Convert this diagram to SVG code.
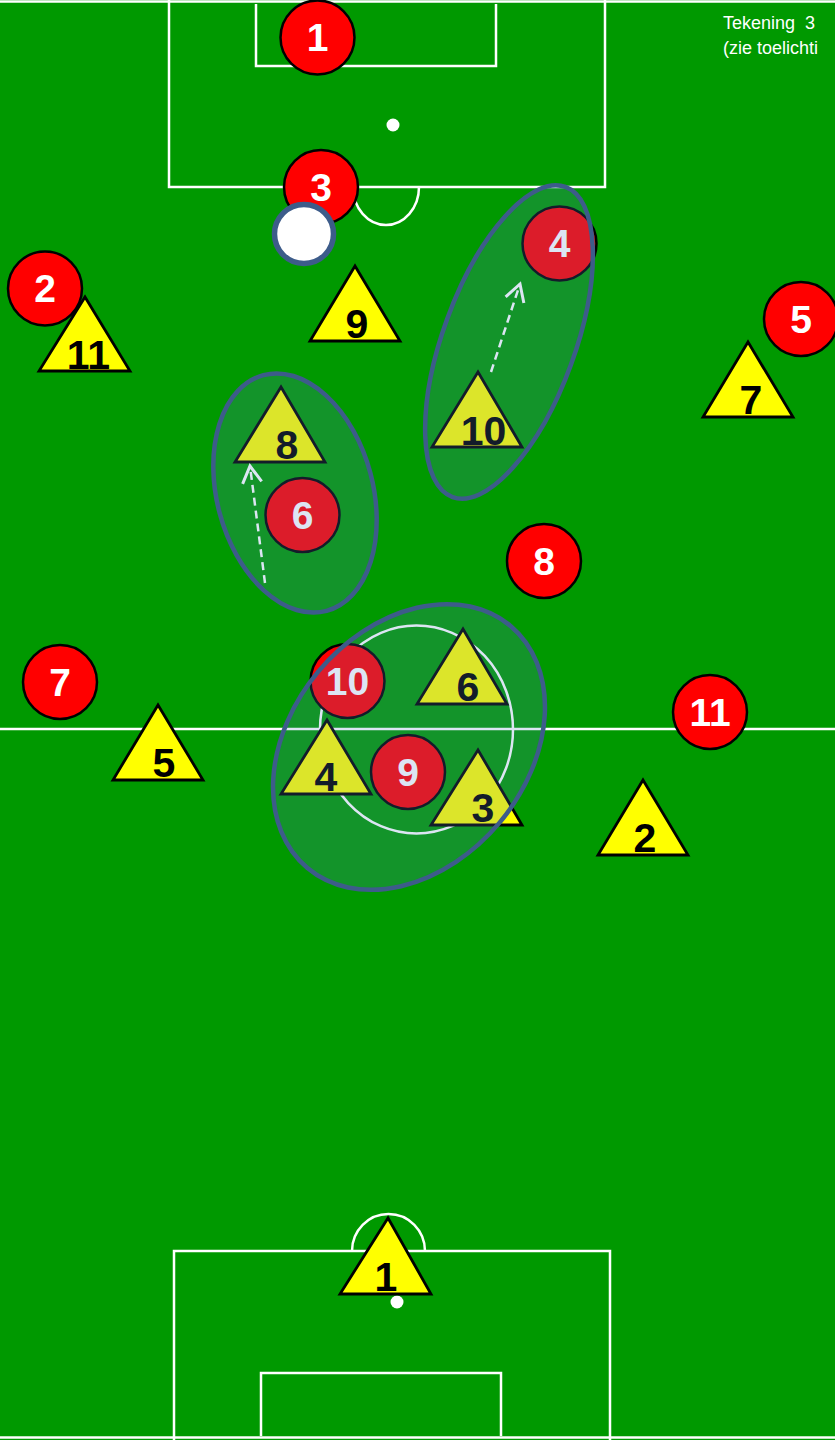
<svg xmlns="http://www.w3.org/2000/svg" width="835" height="1440" viewBox="0 0 835 1440">
<defs>
<style>
.ln{fill:none;stroke:#ffffff;stroke-width:2.5}
.red circle{fill:#ff0000;stroke:#000;stroke-width:2.5}
.red text{fill:#fff;font-family:"Liberation Sans",Arial,sans-serif;font-weight:bold;font-size:39px;text-anchor:middle}
.yel polygon{fill:#ffff00;stroke:#000;stroke-width:2.8;stroke-linejoin:miter}
.yel text{fill:#000;font-family:"Liberation Sans",Arial,sans-serif;font-weight:bold;font-size:41px;text-anchor:middle}
.zone{fill:#5a85c8;fill-opacity:0.21;stroke:#3d5c8a;stroke-width:4.5}
.run{fill:none;stroke:#ffffff;stroke-width:2.5;stroke-dasharray:8 5}
.note{fill:#fff;font-family:"Liberation Sans",Arial,sans-serif;font-size:18px;white-space:pre}
</style>
<marker id="open" markerUnits="userSpaceOnUse" markerWidth="24" markerHeight="24" refX="0" refY="0" viewBox="-14 -10 16 20" orient="auto">
<path d="M-14,-8 L0,0 L-14,8" fill="none" stroke="#ffffff" stroke-width="2.5"/>
</marker>
</defs>

<g id="field">
<rect x="0" y="0" width="835" height="1440" fill="#009900"/>
<line class="ln" x1="0" y1="1.5" x2="835" y2="1.5"/>
<line class="ln" x1="0" y1="1437.5" x2="835" y2="1437.5"/>
<line class="ln" x1="0" y1="729" x2="835" y2="729"/>
<ellipse class="ln" cx="416.5" cy="729.5" rx="96.5" ry="104"/>
<polyline class="ln" points="169,0 169,187 605,187 605,0"/>
<polyline class="ln" points="256,4 256,66 496,66 496,4"/>
<circle cx="393" cy="125" r="6.5" fill="#fff"/>
<path class="ln" d="M353,187 A33,38 0 0 0 419,187"/>
<polyline class="ln" points="174,1440 174,1251 610,1251 610,1440"/>
<polyline class="ln" points="261,1436 261,1373 501,1373 501,1436"/>
<circle cx="397" cy="1302" r="6.5" fill="#fff"/>
<path class="ln" d="M352,1251 A36.5,37 0 0 1 425,1251"/>
</g>

<g id="note">
<text class="note" x="723" y="29" xml:space="preserve">Tekening  3</text>
<text class="note" x="723" y="54">(zie toelichti</text>
</g>

<g id="red-1" class="red"><circle cx="317.5" cy="37.5" r="37"/><text x="317.5" y="51">1</text></g>
<g id="red-3" class="red"><circle cx="321" cy="187" r="37"/><text x="321" y="201">3</text></g>
<g id="red-2" class="red"><circle cx="45" cy="288.5" r="37"/><text x="45" y="302">2</text></g>
<g id="red-4" class="red"><circle cx="559.5" cy="243.5" r="37"/><text x="559.5" y="257">4</text></g>
<g id="red-5" class="red"><circle cx="801" cy="319" r="37"/><text x="801" y="333">5</text></g>
<g id="red-8" class="red"><circle cx="544" cy="561" r="37"/><text x="544" y="575">8</text></g>
<g id="red-6" class="red"><circle cx="302.5" cy="515" r="37"/><text x="302.5" y="529">6</text></g>
<g id="red-7" class="red"><circle cx="60" cy="682" r="37"/><text x="60" y="696">7</text></g>
<g id="red-10" class="red"><circle cx="347.5" cy="681" r="37"/><text x="347.5" y="695">10</text></g>
<g id="red-11" class="red"><circle cx="710" cy="712" r="37"/><text x="710" y="726">11</text></g>
<g id="red-9" class="red"><circle cx="408" cy="772" r="37"/><text x="408" y="786">9</text></g>

<g id="yel-9" class="yel"><polygon points="355,266 400,341 310,341"/><text x="357" y="338">9</text></g>
<g id="yel-11" class="yel"><polygon points="85,297 130,371 39,371"/><text x="88.5" y="369">11</text></g>
<g id="yel-7" class="yel"><polygon points="748,342 793,417 703,417"/><text x="751" y="414">7</text></g>
<g id="yel-8" class="yel"><polygon points="281,387 325,462 235,462"/><text x="287" y="459">8</text></g>
<g id="yel-10" class="yel"><polygon points="478,372 522,447 432,447"/><text x="483.5" y="445">10</text></g>
<g id="yel-6" class="yel"><polygon points="463,629 507,704 417,704"/><text x="468" y="701">6</text></g>
<g id="yel-5" class="yel"><polygon points="158,705 203,780 113,780"/><text x="164" y="777">5</text></g>
<g id="yel-4" class="yel"><polygon points="327,720 371,794 281,794"/><text x="326" y="791">4</text></g>
<g id="yel-3" class="yel"><polygon points="478,750 522,825 431,825"/><text x="483" y="822">3</text></g>
<g id="yel-2" class="yel"><polygon points="643,780 688,855 598,855"/><text x="645" y="852">2</text></g>
<g id="yel-1" class="yel"><polygon points="388,1218 431,1294 340,1294"/><text x="386" y="1291">1</text></g>

<g id="ball"><circle cx="304" cy="234" r="29.5" fill="#ffffff" stroke="#3d5c8a" stroke-width="5.5"/></g>

<g id="connectors">
<line class="run" x1="491" y1="372" x2="520" y2="284" marker-end="url(#open)"/>
<line class="run" x1="265" y1="583" x2="250" y2="466" marker-end="url(#open)"/>
</g>

<g id="zones">
<ellipse class="zone" cx="509" cy="342" rx="66" ry="165" transform="rotate(20 509 342)"/>
<ellipse class="zone" cx="295" cy="493" rx="78" ry="122" transform="rotate(-15 295 493)"/>
<ellipse class="zone" cx="409" cy="747" rx="118" ry="158" transform="rotate(40 409 747)"/>
</g>
</svg>
